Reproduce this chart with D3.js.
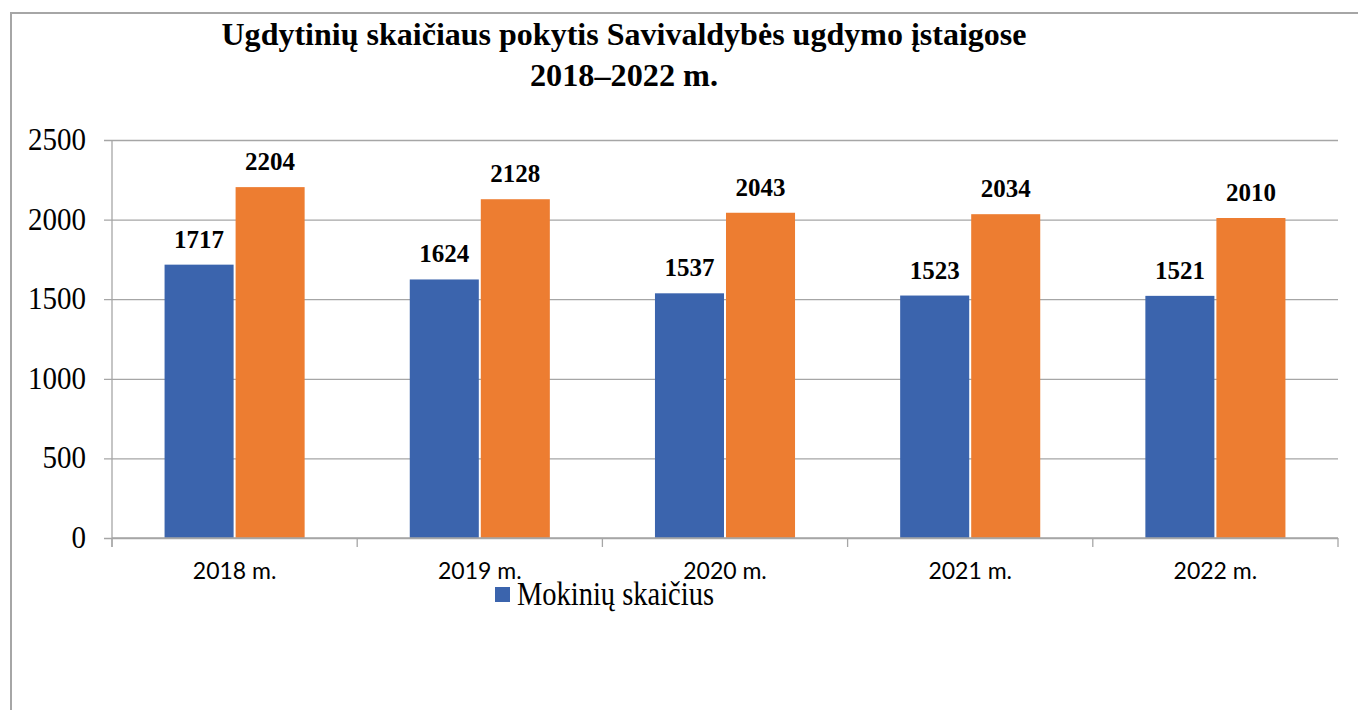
<!DOCTYPE html>
<html>
<head>
<meta charset="utf-8">
<script src="https://cdn.jsdelivr.net/npm/d3@7"></script>
<style>
  body { margin: 0; background: #fff; }
  svg { display: block; }
</style>
</head>
<body>
<div id="chart"></div>
<script>
var years = ['2018 m.', '2019 m.', '2020 m.', '2021 m.', '2022 m.']
var seriesNames = ['Mokinių skaičius', 'Ugdytinių skaičius']
var mokiniai = [1717, 1624, 1537, 1523, 1521]
var ugdytiniai = [2204, 2128, 2043, 2034, 2010]
var yTicks = [0, 500, 1000, 1500, 2000, 2500]
var titleLines = ['Ugdytinių skaičiaus pokytis Savivaldybės ugdymo įstaigose', '2018–2022 m.']

var colors = ['#3b64ad', '#ed7d31']
var serif = "'Liberation Serif', 'Times New Roman', serif"

function drawChart() {
  var width = 1358
  var height = 710
  var mLeft = 112, mRight = 1338, mTop = 140, mBottom = 538

  var svg = d3.select('#chart').append('svg')
    .attr('width', width)
    .attr('height', height)

  // outer frame (only left and top edges visible)
  svg.append('path')
    .attr('d', 'M11,' + height + 'V13H' + width)
    .attr('fill', 'none')
    .attr('stroke', '#a6a6a6')
    .attr('stroke-width', 2)

  // title
  svg.append('g').selectAll('text')
    .data(titleLines)
    .enter().append('text')
      .attr('x', 624)
      .attr('y', (d, i) => 45 + i * 41)
      .attr('text-anchor', 'middle')
      .attr('font-family', serif)
      .attr('font-weight', 'bold')
      .attr('font-size', 31)
      .attr('textLength', (d, i) => i === 0 ? 805 : 188)
      .attr('lengthAdjust', 'spacingAndGlyphs')
      .text(d => d)

  var x = d3.scaleBand()
    .domain(years)
    .range([mLeft, mRight])

  var xInner = d3.scaleBand()
    .domain(d3.range(seriesNames.length))
    .range([0, x.bandwidth()])
    .paddingInner(0.028)
    .paddingOuter(0.74)

  var y = d3.scaleLinear()
    .domain([0, 2500])
    .range([mBottom, mTop])

  // gridlines + y ticks
  var yAxis = d3.axisLeft(y)
    .tickValues(yTicks)
    .tickSize(-(mRight - mLeft))
    .tickPadding(26)
    .tickFormat(d3.format('d'))

  var gy = svg.append('g')
    .attr('transform', 'translate(' + mLeft + ',0)')
    .call(yAxis)
  gy.select('.domain').remove()
  gy.selectAll('.tick line')
    .attr('x1', -8)
    .attr('stroke', '#a6a6a6')
    .attr('stroke-width', 1.3)
  gy.selectAll('.tick text')
    .attr('font-family', serif)
    .attr('font-size', 29)
    .attr('fill', '#000')
    .attr('dy', '0.3em')
    .attr('transform', 'scale(1,1.08)')

  // vertical axis line
  svg.append('line')
    .attr('x1', mLeft).attr('x2', mLeft)
    .attr('y1', mTop).attr('y2', mBottom + 9)
    .attr('stroke', '#a6a6a6')
    .attr('stroke-width', 1.3)

  // bars
  var rows = years.map((yr, i) => ({ year: yr, values: [mokiniai[i], ugdytiniai[i]] }))

  var groups = svg.append('g').selectAll('g')
    .data(rows)
    .enter().append('g')
      .attr('transform', d => 'translate(' + x(d.year) + ',0)')

  groups.selectAll('rect')
    .data(d => d.values)
    .enter().append('rect')
      .attr('x', (d, i) => xInner(i))
      .attr('y', d => y(d))
      .attr('width', xInner.bandwidth())
      .attr('height', d => y(0) - y(d))
      .attr('fill', (d, i) => colors[i])

  groups.selectAll('text.val')
    .data(d => d.values)
    .enter().append('text')
      .attr('class', 'val')
      .attr('x', (d, i) => xInner(i) + xInner.bandwidth() / 2)
      .attr('y', d => y(d) - 17)
      .attr('text-anchor', 'middle')
      .attr('font-family', serif)
      .attr('font-weight', 'bold')
      .attr('font-size', 25)
      .text(d => d)

  // x axis
  var xAxis = d3.axisBottom(x)
    .tickSize(0)
    .tickPadding(25)

  var gx = svg.append('g')
    .attr('transform', 'translate(0,' + mBottom + ')')
    .call(xAxis)
  gx.select('.domain')
    .attr('d', 'M' + mLeft + ',0H' + mRight)
    .attr('stroke', '#a6a6a6')
    .attr('stroke-width', 1.3)
  gx.selectAll('.tick text')
    .attr('font-family', 'Lato, sans-serif')
    .attr('font-size', 23)
    .attr('fill', '#000')

  // category separators
  gx.selectAll('line.sep')
    .data(years.map(d => x(d)).concat([mRight]))
    .enter().append('line')
      .attr('class', 'sep')
      .attr('x1', d => d).attr('x2', d => d)
      .attr('y1', 0).attr('y2', 9)
      .attr('stroke', '#a6a6a6')
      .attr('stroke-width', 1.3)

  // legend (only the first series shows in the original)
  var legend = svg.append('g')
    .attr('transform', 'translate(495,587)')
  legend.append('rect')
    .attr('width', 15)
    .attr('height', 15)
    .attr('fill', colors[0])
  legend.append('text')
    .attr('x', 22)
    .attr('y', 18)
    .attr('font-family', serif)
    .attr('font-size', 33)
    .attr('textLength', 197)
    .attr('lengthAdjust', 'spacingAndGlyphs')
    .text(seriesNames[0])
}

drawChart()
</script>
</body>
</html>
